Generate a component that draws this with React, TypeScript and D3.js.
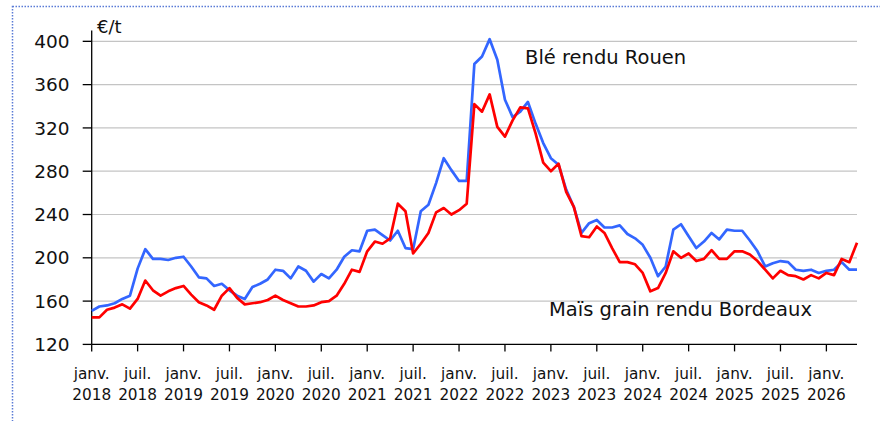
import React from "react";
import * as d3 from "d3";

// Monthly prices, €/t (janv. 2018 -> mai 2026)
const ble = [
  151, 155, 156, 158, 162, 165, 190, 208, 199, 199, 198, 200,
  201, 192, 182, 181, 174, 176, 170, 165, 162, 173, 176, 180,
  189, 188, 181, 192, 188, 178, 185, 181, 189, 201, 207, 206,
  225, 226, 221, 216, 225, 209, 208, 243, 249, 269, 292, 281,
  271, 271, 379, 386, 402, 383, 346, 330, 335, 344, 324, 306,
  292, 286, 263, 247, 223, 232, 235, 228, 228, 230, 222, 218,
  212, 200, 183, 192, 226, 231, 220, 209, 215, 223, 217, 226,
  225, 225, 216, 206, 192, 195, 197, 196, 189, 188, 189, 186,
  188, 189, 196, 189, 189,
];

const mais = [
  145, 145, 152, 154, 157, 153, 162, 179, 170, 165, 169, 172,
  174, 166, 159, 156, 152, 165, 172, 163, 157, 158, 159, 161,
  165, 161, 158, 155, 155, 156, 159, 160, 165, 176, 189, 187,
  206, 215, 213, 218, 250, 243, 204, 213, 223, 242, 246, 240,
  244, 250, 342, 335, 351, 321, 312, 327, 339, 338, 315, 288,
  280, 287, 261, 247, 220, 219, 229, 223, 209, 196, 196, 194,
  186, 169, 172, 186, 206, 200, 204, 197, 199, 207, 199, 199,
  206, 206, 203, 197, 189, 181, 188, 184, 183, 180, 184, 181,
  186, 184, 199, 196, 214,
];

const months = d3.timeMonth.range(new Date(2018, 0, 1), new Date(2026, 5, 1));

const yTicks = [120, 160, 200, 240, 280, 320, 360, 400];

const xTickLabels = [
  "janv. 2018", "juil. 2018", "janv. 2019", "juil. 2019", "janv. 2020",
  "juil. 2020", "janv. 2021", "juil. 2021", "janv. 2022", "juil. 2022",
  "janv. 2023", "juil. 2023", "janv. 2024", "juil. 2024", "janv. 2025",
  "juil. 2025", "janv. 2026",
];

const FONT = "DejaVu Sans";

function PriceChart() {
  const x = d3
    .scaleLinear()
    .domain([0, months.length - 1])
    .range([91.7, 857]);
  const y = d3.scaleLinear().domain([120, 410]).range([344.4, 30.5]);

  const line = d3
    .line<number>()
    .x((d, i) => x(i))
    .y((d) => y(d));

  const x0 = x(0);
  const x1 = x(months.length - 1);

  return (
    <svg
      width={880}
      height={421}
      style={{ position: "absolute", left: 0, top: 0, background: "#fff" }}
      fontFamily={FONT}
    >
      {/* dotted frame */}
      <rect
        x={12.5}
        y={6.5}
        width={900}
        height={500}
        fill="none"
        stroke="#5a7bd6"
        strokeWidth={1.5}
        strokeDasharray="1.5,1.5"
      />

      {/* grid */}
      {yTicks
        .filter((t) => t > 120)
        .map((t) => (
          <line
            key={"g" + t}
            x1={x0}
            x2={x1}
            y1={y(t)}
            y2={y(t)}
            stroke="#c4c4c4"
            strokeWidth={1.2}
          />
        ))}

      {/* y axis */}
      <line x1={x0} x2={x0} y1={y(410)} y2={y(120)} stroke="#000" strokeWidth={1.3} />
      {yTicks.map((t) => (
        <g key={"y" + t}>
          <line x1={x0 - 9} x2={x0} y1={y(t)} y2={y(t)} stroke="#000" strokeWidth={1.3} />
          <text
            x={69.5}
            y={y(t)}
            dy="0.36em"
            textAnchor="end"
            fontSize={18.5}
            fill="#111"
          >
            {t}
          </text>
        </g>
      ))}
      <text x={97} y={32.5} fontSize={18} fill="#111">
        €/t
      </text>

      {/* x axis */}
      <line x1={x0} x2={x1} y1={y(120)} y2={y(120)} stroke="#000" strokeWidth={1.3} />
      {xTickLabels.map((lbl, k) => {
        const xi = x(k * 6);
        const [m, yr] = lbl.split(" ");
        return (
          <g key={"x" + k}>
            <line x1={xi} x2={xi} y1={y(120)} y2={y(120) + 7} stroke="#000" strokeWidth={1.3} />
            <text x={xi} y={378.5} textAnchor="middle" fontSize={15.3} fill="#111">
              {m}
            </text>
            <text x={xi} y={399.5} textAnchor="middle" fontSize={15.3} fill="#111">
              {yr}
            </text>
          </g>
        );
      })}

      {/* series */}
      <path
        d={line(ble) || ""}
        fill="none"
        stroke="#3366ff"
        strokeWidth={2.7}
        strokeLinejoin="round"
      />
      <path
        d={line(mais) || ""}
        fill="none"
        stroke="#ff0000"
        strokeWidth={2.7}
        strokeLinejoin="round"
      />

      {/* series labels */}
      <text x={525} y={64} fontSize={19.5} fill="#111">
        Blé rendu Rouen
      </text>
      <text x={549} y={315.7} fontSize={19.5} fill="#111">
        Maïs grain rendu Bordeaux
      </text>
    </svg>
  );
}

export default function App() {
  return <PriceChart />;
}
